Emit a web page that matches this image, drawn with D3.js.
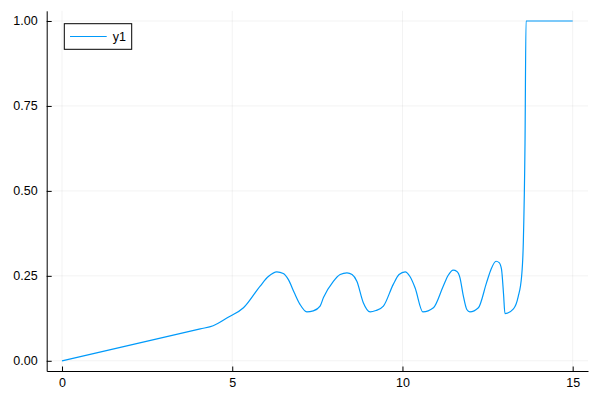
<!DOCTYPE html>
<html>
<head>
<meta charset="utf-8">
<script src="https://cdn.jsdelivr.net/npm/d3@7"></script>
<style>
	body { margin: 0; background: #fff; }
	text { font-family: "Liberation Sans", sans-serif; }
</style>
</head>
<body>
<div id="chart"></div>
<script>
// values
var seriesName = "y1";
var xs = [0, 4.06, 4.44, 4.88, 5.33, 5.82, 6.06, 6.31, 6.50, 6.65, 6.82, 6.99, 7.19, 7.38, 7.58, 7.68,
	7.97, 8.17, 8.37, 8.52, 8.66, 8.85, 9.05, 9.22, 9.44, 9.73, 9.90, 10.08, 10.22, 10.37, 10.60,
	10.91, 11.20, 11.34, 11.49, 11.60, 11.69, 11.78, 11.89, 11.98, 12.23, 12.47, 12.60, 12.75, 12.84,
	12.91, 12.97, 13.01, 13.26, 13.40, 13.50, 13.55, 13.60, 13.63, 15];
var ys = [0, 0.094, 0.103, 0.128, 0.156, 0.220, 0.248, 0.262, 0.257, 0.239, 0.201, 0.166, 0.144, 0.147, 0.161, 0.186,
	0.234, 0.254, 0.259, 0.254, 0.234, 0.171, 0.144, 0.148, 0.161, 0.225, 0.254, 0.262, 0.248, 0.215, 0.144,
	0.156, 0.220, 0.251, 0.267, 0.263, 0.244, 0.195, 0.151, 0.144, 0.156, 0.230, 0.269, 0.293, 0.289,
	0.269, 0.195, 0.139, 0.153, 0.189, 0.249, 0.348, 0.643, 1.0, 1.0];
var xTicks = [0, 5, 10, 15];
var yTicks = [0, 0.25, 0.5, 0.75, 1.0];

var margin = ({top: 10.8, right: 12, bottom: 29, left: 46.7});
var width = 600 - margin.left - margin.right;
var height = 400 - margin.top - margin.bottom;
var lineColor = "#009afa";

var x = d3.scaleLinear()
		.domain([-0.45, 15.45])
		.range([0, width]);

var y = d3.scaleLinear()
		.domain([-0.03, 1.03])
		.range([height, 0]);

var data = xs.map((d, i) => ({x: d, y: ys[i]}));

var svg = d3.select("#chart")
		.append("svg")
		.attr("width", 600)
		.attr("height", 400)

		.append("g")
			.attr("transform", "translate(" + margin.left + "," + margin.top + ")");

// grid
svg.append("g")
	.selectAll("line")
	.data(xTicks)
	.enter()
	.append("line")
	.attr("x1", (d) => x(d))
	.attr("x2", (d) => x(d))
	.attr("y1", 0)
	.attr("y2", height)
	.attr("stroke", "#000")
	.attr("stroke-opacity", 0.1)
	.attr("stroke-width", 0.5);

svg.append("g")
	.selectAll("line")
	.data(yTicks)
	.enter()
	.append("line")
	.attr("x1", 0)
	.attr("x2", width)
	.attr("y1", (d) => y(d))
	.attr("y2", (d) => y(d))
	.attr("stroke", "#000")
	.attr("stroke-opacity", 0.1)
	.attr("stroke-width", 0.5);

// axes, ticks pointing inward
var xAxis = svg.append("g")
		.attr("transform", "translate(0," + height + ")")
		.call(d3.axisBottom(x).tickValues(xTicks).tickSizeInner(-4.5).tickSizeOuter(0).tickPadding(7).tickFormat(d3.format("d")));

var yAxis = svg.append("g")
		.call(d3.axisLeft(y).tickValues(yTicks).tickSizeInner(-5).tickSizeOuter(0).tickPadding(9).tickFormat(d3.format(".2f")));

[xAxis, yAxis].forEach((g) => {
	g.select(".domain").attr("stroke", "#000").attr("stroke-width", 1);
	g.selectAll(".tick line").attr("stroke", "#000");
	g.selectAll(".tick text")
		.attr("font-family", "Liberation Sans")
		.attr("font-size", "12.5px")
		.attr("fill", "#000");
});

// series
svg.append("path")
	.datum(data)
	.attr("fill", "none")
	.attr("stroke", lineColor)
	.attr("stroke-width", 1.2)
	.attr("d", d3.line()
		.x((d) => x(d.x))
		.y((d) => y(d.y))
		.curve(d3.curveMonotoneX));

// legend
var legend = svg.append("g")
		.attr("transform", "translate(17.6,12.9)");

legend.append("rect")
	.attr("width", 67.4)
	.attr("height", 25.6)
	.attr("fill", "#fff")
	.attr("stroke", "#000")
	.attr("stroke-width", 1);

legend.append("line")
	.attr("x1", 5.7)
	.attr("x2", 42.4)
	.attr("y1", 12.8)
	.attr("y2", 12.8)
	.attr("stroke", lineColor)
	.attr("stroke-width", 1.2);

legend.append("text")
	.attr("x", 48.5)
	.attr("y", 12.8)
	.attr("dy", "0.35em")
	.attr("font-family", "Liberation Sans")
	.attr("font-size", "12.5px")
	.attr("fill", "#000")
	.text(seriesName);
</script>
</body>
</html>
